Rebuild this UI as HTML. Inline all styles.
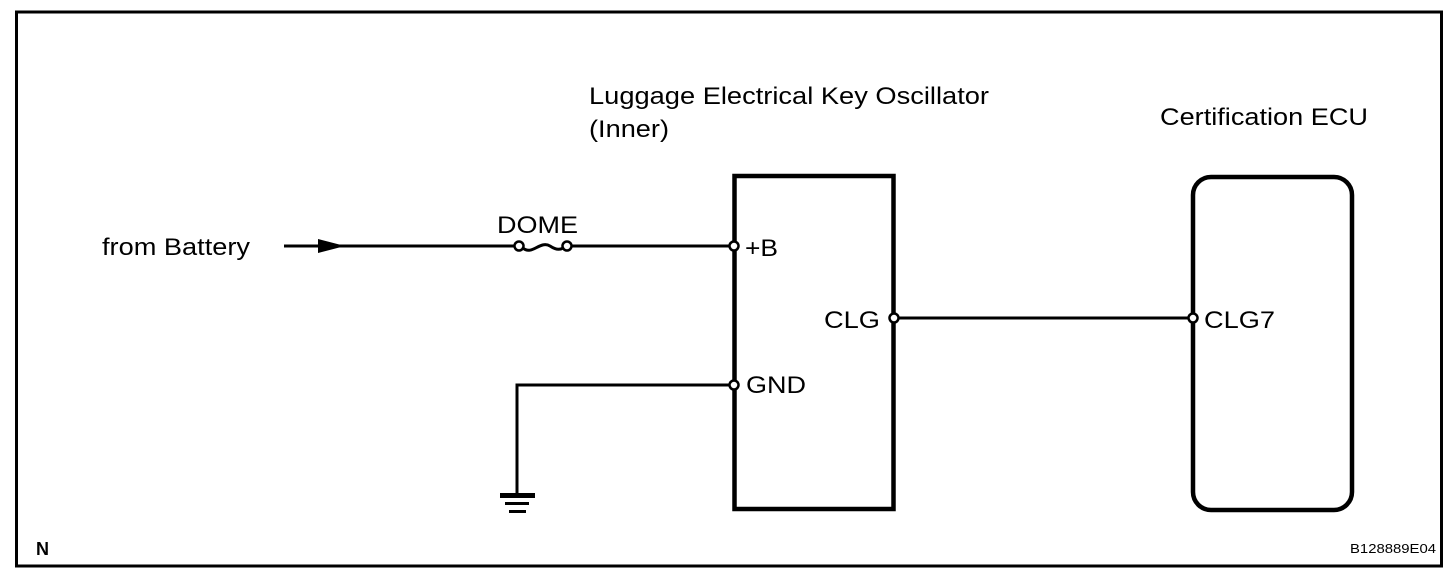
<!DOCTYPE html>
<html><head><meta charset="utf-8"><style>
html,body{margin:0;padding:0;background:#fff;width:1456px;height:580px;overflow:hidden}
svg text{font-family:"Liberation Sans",Arial,sans-serif;fill:#000}
</style></head><body>
<svg width="1456" height="580" viewBox="0 0 1456 580" xmlns="http://www.w3.org/2000/svg">
<rect x="16.5" y="12" width="1425" height="554" fill="none" stroke="#000" stroke-width="3"/>
<text x="589" y="104" font-size="24" textLength="400" lengthAdjust="spacingAndGlyphs">Luggage Electrical Key Oscillator</text>
<text x="589" y="137" font-size="24" textLength="80" lengthAdjust="spacingAndGlyphs">(Inner)</text>
<text x="1160" y="125" font-size="24" textLength="208" lengthAdjust="spacingAndGlyphs">Certification ECU</text>
<text x="102" y="255" font-size="24" textLength="148" lengthAdjust="spacingAndGlyphs">from Battery</text>
<text x="497" y="233" font-size="24" textLength="81" lengthAdjust="spacingAndGlyphs">DOME</text>
<text x="36" y="555" font-size="18" font-weight="bold">N</text>
<text x="1350" y="553" font-size="13" textLength="86" lengthAdjust="spacingAndGlyphs">B128889E04</text>
<rect x="734.5" y="176" width="159" height="333" fill="none" stroke="#000" stroke-width="4.5"/>
<rect x="1193" y="177" width="159" height="333" rx="18" fill="none" stroke="#000" stroke-width="4.5"/>
<line x1="284" y1="246" x2="515" y2="246" stroke="#000" stroke-width="3"/>
<polygon points="318,239 345,246 318,253" fill="#000"/>
<line x1="571" y1="246" x2="730" y2="246" stroke="#000" stroke-width="3"/>
<circle cx="519" cy="246" r="4.5" fill="#fff" stroke="#000" stroke-width="2.5"/>
<circle cx="567" cy="246" r="4.5" fill="#fff" stroke="#000" stroke-width="2.5"/>
<path d="M523,248 C532,256 540,240 550,246 C556,250 560,250 563,248" fill="none" stroke="#000" stroke-width="3"/>
<circle cx="734" cy="246" r="4.5" fill="#fff" stroke="#000" stroke-width="2.5"/>
<text x="745" y="256" font-size="24" textLength="33" lengthAdjust="spacingAndGlyphs">+B</text>
<line x1="898" y1="318" x2="1189" y2="318" stroke="#000" stroke-width="3"/>
<circle cx="894" cy="318" r="4.5" fill="#fff" stroke="#000" stroke-width="2.5"/>
<circle cx="1193" cy="318" r="4.5" fill="#fff" stroke="#000" stroke-width="2.5"/>
<text x="824" y="328" font-size="24" textLength="56" lengthAdjust="spacingAndGlyphs">CLG</text>
<text x="1204" y="328" font-size="24" textLength="71" lengthAdjust="spacingAndGlyphs">CLG7</text>
<polyline points="517,494 517,385 730,385" fill="none" stroke="#000" stroke-width="3"/>
<circle cx="734" cy="385" r="4.5" fill="#fff" stroke="#000" stroke-width="2.5"/>
<text x="746" y="393" font-size="24" textLength="60" lengthAdjust="spacingAndGlyphs">GND</text>
<rect x="500" y="493" width="35" height="5" fill="#000"/>
<rect x="505" y="502" width="24" height="3" fill="#000"/>
<rect x="509" y="510" width="17" height="3" fill="#000"/>
</svg>
</body></html>
